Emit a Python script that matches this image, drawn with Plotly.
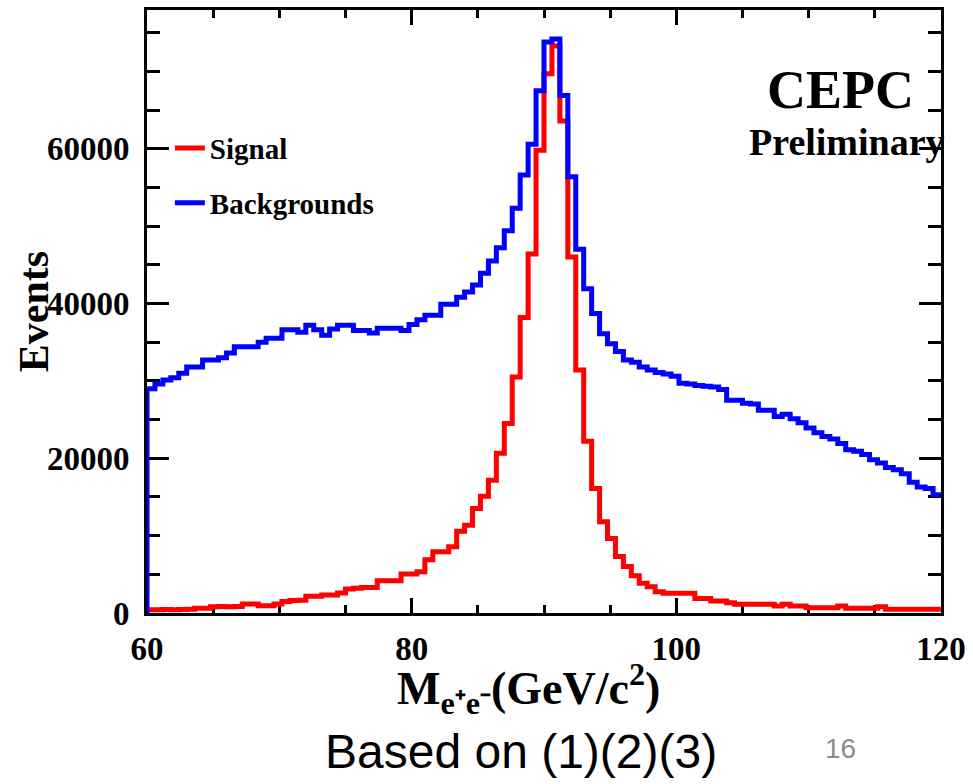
import plotly.graph_objects as go

# ---------------- data ----------------
bin_low = 60.0
bin_width = 0.6
n_bins = 100

signal = [
    430, 430, 450, 430, 450, 500, 600, 600, 820, 850,
    800, 850, 1160, 1160, 950, 950, 1160, 1500, 1600, 1650,
    2150, 2150, 2320, 2320, 2580, 3100, 3200, 3300, 3300, 4170,
    4170, 4170, 5030, 5030, 5330, 6880, 7910, 7910, 8560, 10580,
    11350, 13500, 15100, 17160, 20650, 24500, 30500, 38200, 46400, 59800,
    69700, 73300, 63600, 46000, 31400, 22200, 16100, 11800, 9640, 7300,
    6000, 4800, 3830, 3400, 2750, 2540, 2540, 2540, 2540, 1890,
    1890, 1550, 1550, 1330, 1120, 1120, 1120, 1120, 1120, 900,
    1120, 900, 900, 690, 690, 690, 690, 900, 600, 600,
    600, 600, 820, 470, 470, 470, 470, 470, 470, 470,
]

backgrounds = [
    29000, 29600, 30100, 30400, 31000, 31800, 31800, 32700, 32700, 33000,
    33600, 34400, 34400, 34400, 35000, 35500, 35500, 36600, 36600, 36300,
    37200, 36600, 35900, 36700, 37200, 37200, 36500, 36500, 36200, 36800,
    36800, 36800, 36500, 37300, 37900, 38500, 38500, 39900, 39900, 40800,
    41500, 42400, 43900, 45500, 47200, 49400, 52300, 56600, 60600, 67500,
    73800, 74200, 66900, 56400, 47000, 41900, 38700, 36100, 34800, 33800,
    32700, 32400, 31800, 31400, 31100, 30900, 30600, 29700, 29600, 29400,
    29300, 29200, 28900, 27500, 27500, 27100, 27000, 26200, 26200, 25400,
    25700, 25100, 24600, 23900, 23300, 22800, 22500, 21900, 21100, 20900,
    20500, 19800, 19400, 18800, 18500, 18000, 16900, 16300, 16100, 15300,
]

x_tick_vals = [60, 80, 100, 120]
x_tick_text = ["60", "80", "100", "120"]
y_tick_vals = [0, 20000, 40000, 60000]
y_tick_text = ["0", "20000", "40000", "60000"]

edges = [round(bin_low + bin_width * i, 4) for i in range(n_bins + 1)]


def step_xy(vals):
    xs = [edges[0]] + edges[:-1] + [edges[-1]]
    ys = [0] + list(vals) + [vals[-1]]
    return xs, ys


serif = "Liberation Serif"

fig = go.Figure()
sx, sy = step_xy(signal)
bx, by = step_xy(backgrounds)
fig.add_trace(go.Scatter(x=sx, y=sy, mode="lines", line=dict(color="#FF0000", width=5, shape="hv"),
                         name="Signal", legendgroup="a"))
fig.add_trace(go.Scatter(x=bx, y=by, mode="lines", line=dict(color="#0000FF", width=5, shape="hv"),
                         name="Backgrounds", legendgroup="b"))

tickfont = dict(family=serif, size=33, color="black", weight="bold")

fig.update_layout(
    width=973, height=784,
    margin=dict(l=147, r=27, t=7, b=171),
    paper_bgcolor="white", plot_bgcolor="white",
    showlegend=True,
    legend=dict(x=0.0288, y=0.813, xanchor="left", yanchor="top",
                font=dict(family=serif, size=29, color="black", weight="bold"),
                bgcolor="rgba(0,0,0,0)", traceorder="grouped", tracegroupgap=14,
                itemwidth=30),
    xaxis=dict(range=[60, 120], tickvals=x_tick_vals, ticktext=x_tick_text,
               ticks="inside", ticklen=15, tickwidth=3, tickcolor="black",
               minor=dict(dtick=5, tick0=60, ticks="inside", ticklen=8, tickwidth=3, tickcolor="black"),
               showline=True, linewidth=3, linecolor="black", mirror="allticks",
               showgrid=False, zeroline=False, layer="below traces",
               tickfont=tickfont, ticklabelstandoff=4),
    yaxis=dict(range=[0, 77940], tickvals=y_tick_vals, ticktext=y_tick_text,
               ticks="inside", ticklen=22, tickwidth=3, tickcolor="black",
               minor=dict(dtick=5000, tick0=0, ticks="inside", ticklen=13, tickwidth=3, tickcolor="black"),
               showline=True, linewidth=3, linecolor="black", mirror="allticks",
               showgrid=False, zeroline=False, layer="below traces",
               tickfont=tickfont, ticklabelstandoff=8),
)

annotations = [
    dict(text="M<sub>e⁺e⁻</sub>(GeV/c<sup>2</sup>)", x=0.481, y=-0.1254, xref="paper", yref="paper",
         xanchor="center", yanchor="middle", showarrow=False,
         font=dict(family=serif, size=46, color="black", weight="bold")),
    dict(text="Events", x=-0.1427, y=0.5, xref="paper", yref="paper", textangle=-90,
         xanchor="center", yanchor="middle", showarrow=False,
         font=dict(family=serif, size=42, color="black", weight="bold")),
    dict(text="CEPC", x=0.873, y=0.868, xref="paper", yref="paper",
         xanchor="center", yanchor="middle", showarrow=False,
         font=dict(family=serif, size=54, color="black", weight="bold")),
    dict(text="Preliminary", x=0.756, y=0.7805, xref="paper", yref="paper",
         xanchor="left", yanchor="middle", showarrow=False,
         font=dict(family=serif, size=38, color="black", weight="bold")),
    dict(text="Based on (1)(2)(3)", x=0.471, y=-0.2294, xref="paper", yref="paper",
         xanchor="center", yanchor="middle", showarrow=False,
         font=dict(family="Liberation Sans", size=48, color="black")),
    dict(text="16", x=0.874, y=-0.2244, xref="paper", yref="paper",
         xanchor="center", yanchor="middle", showarrow=False,
         font=dict(family="Liberation Sans", size=28, color="#8c8c8c")),
]
fig.update_layout(annotations=annotations)

fig.write_html("out.html")
